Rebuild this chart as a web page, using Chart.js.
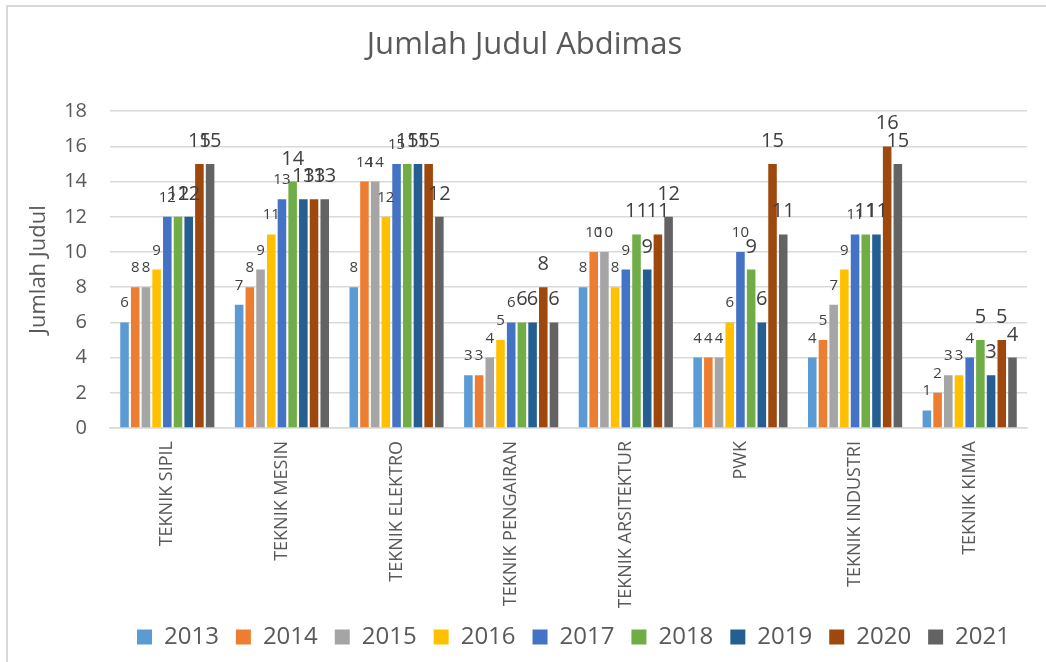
<!DOCTYPE html>
<html>
<head>
<meta charset="utf-8">
<script src="https://cdn.jsdelivr.net/npm/chart.js@4/dist/chart.umd.min.js"></script>
<style>
  body { margin: 0; background: #fff; }
  #wrap { position: relative; width: 1046px; height: 662px; overflow: hidden; }
  #frame { position: absolute; left: 6px; top: 5px; width: 1100px; height: 700px; border: 2px solid #d9d9d9; }
  canvas { position: absolute; left: 0; top: 0; }
</style>
</head>
<body>
<div id="wrap">
  <div id="frame"></div>
  <canvas id="myChart" width="1046" height="662"></canvas>
</div>
<script>
const categories = ['TEKNIK SIPIL', 'TEKNIK MESIN', 'TEKNIK ELEKTRO', 'TEKNIK PENGAIRAN',
  'TEKNIK ARSITEKTUR', 'PWK', 'TEKNIK INDUSTRI', 'TEKNIK KIMIA'];
const years = ['2013', '2014', '2015', '2016', '2017', '2018', '2019', '2020', '2021'];

const v2013 = [6, 7, 8, 3, 8, 4, 4, 1];
const v2014 = [8, 8, 14, 3, 10, 4, 5, 2];
const v2015 = [8, 9, 14, 4, 10, 4, 7, 3];
const v2016 = [9, 11, 12, 5, 8, 6, 9, 3];
const v2017 = [12, 13, 15, 6, 9, 10, 11, 4];
const v2018 = [12, 14, 15, 6, 11, 9, 11, 5];
const v2019 = [12, 13, 15, 6, 9, 6, 11, 3];
const v2020 = [15, 13, 15, 8, 11, 15, 16, 5];
const v2021 = [15, 13, 12, 6, 12, 11, 15, 4];
const yTicks = [0, 2, 4, 6, 8, 10, 12, 14, 16, 18];

const values = [v2013, v2014, v2015, v2016, v2017, v2018, v2019, v2020, v2021];
const colors = ['#5b9bd5', '#ed7d31', '#a5a5a5', '#ffc000', '#4472c4',
  '#70ad47', '#255e91', '#9e480e', '#636363'];

const FONT = "'Open Sans', sans-serif";

// value labels above the bars, later years in a bigger size like the original
const barLabels = {
  id: 'barLabels',
  afterDatasetsDraw(chart) {
    const ctx = chart.ctx;
    ctx.save();
    ctx.fillStyle = '#404040';
    ctx.textAlign = 'center';
    ctx.textBaseline = 'alphabetic';
    chart.data.datasets.forEach((ds, i) => {
      const meta = chart.getDatasetMeta(i);
      const big = i >= 5;
      ctx.font = (big ? '20px ' : '15px ') + FONT;
      meta.data.forEach((bar, j) => {
        ctx.fillText(String(ds.data[j]), bar.x, bar.y - (big ? 17 : 15));
      });
    });
    ctx.restore();
  }
};

const ctx = document.getElementById('myChart').getContext('2d');

const myChart = new Chart(ctx, {
  type: 'bar',
  data: {
    labels: categories,
    datasets: years.map((y, i) => ({
      label: y,
      data: values[i],
      backgroundColor: colors[i],
      borderWidth: 0,
      categoryPercentage: 0.84,
      barPercentage: 0.8
    }))
  },
  options: {
    responsive: false,
    animation: false,
    layout: { padding: { left: 22, right: 19, top: 27, bottom: 3 } },
    plugins: {
      title: {
        display: true,
        text: 'Jumlah Judul Abdimas',
        color: '#595959',
        font: { family: FONT, size: 31, weight: 'normal' },
        padding: { top: 0, bottom: 47 }
      },
      legend: {
        position: 'bottom',
        align: 'end',
        labels: {
          color: '#595959',
          font: { family: FONT, size: 24 },
          boxWidth: 15,
          boxHeight: 15,
          padding: 17
        }
      },
      tooltip: { enabled: false }
    },
    scales: {
      x: {
        grid: { display: false, drawTicks: false },
        border: { display: true, color: '#d9d9d9', width: 1.5 },
        ticks: {
          color: '#595959',
          font: { family: FONT, size: 18 },
          maxRotation: 90,
          minRotation: 90,
          autoSkip: false,
          padding: 13
        },
        afterFit(scale) { scale.height = 180; }
      },
      y: {
        min: 0,
        max: 18,
        afterBuildTicks(scale) { scale.ticks = yTicks.map(v => ({ value: v })); },
        grid: { color: '#d9d9d9', lineWidth: 1.5, drawTicks: false },
        border: { display: false },
        ticks: {
          color: '#595959',
          font: { family: FONT, size: 20 },
          padding: 23
        },
        title: {
          display: true,
          text: 'Jumlah Judul',
          color: '#595959',
          font: { family: FONT, size: 22 },
          padding: { top: 4, bottom: 4 }
        },
        afterFit(scale) { scale.width = 88; }
      }
    }
  },
  plugins: [barLabels]
});
</script>
</body>
</html>
